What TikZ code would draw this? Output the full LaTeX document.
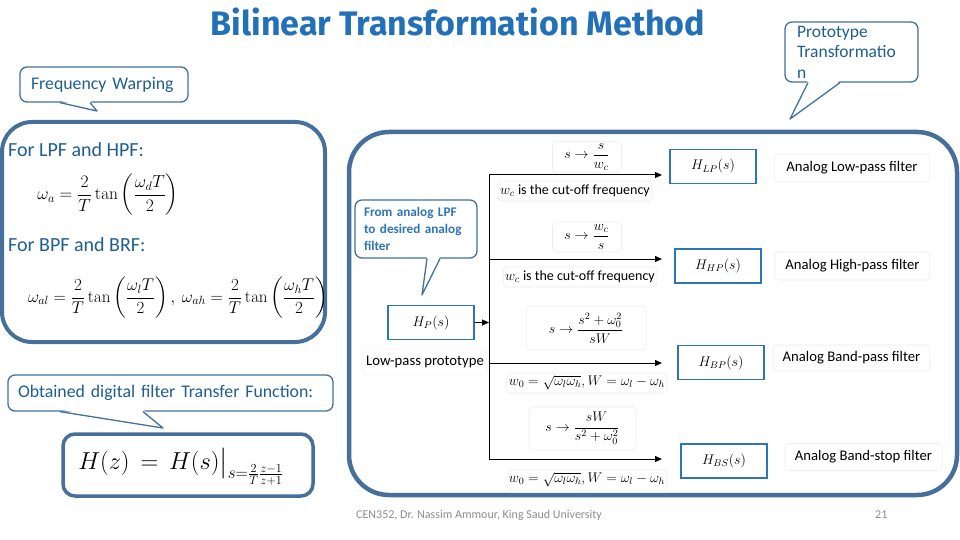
\RequirePackage{fix-cm}
\documentclass[tikz,border=0pt]{standalone}
\usepackage{amsmath}
\usepackage[no-math]{fontspec}
\setmainfont{Carlito}
\newfontfamily\titlefont{Fira Sans}
\usetikzlibrary{arrows.meta,calc,positioning}
\definecolor{frameblue}{HTML}{46709A}
\definecolor{callline}{HTML}{41719C}
\definecolor{calltext}{HTML}{1F5F8F}
\definecolor{titleblue}{HTML}{2170B8}
\definecolor{boxblue}{HTML}{2E75B6}
\definecolor{footgray}{HTML}{8C8C8C}
\tikzset{
  panel/.style={draw=frameblue, line width=4pt, rounded corners=30pt},
  callout/.style={
    draw=callline, line width=1.3pt, rounded corners=7pt, fill=white,
    text=calltext, align=left, inner sep=0pt,
    font=\fontsize{17.8}{20}\selectfont
  },
  filterbox/.style={
    draw=boxblue, line width=1.6pt, fill=white, inner sep=0pt,
    minimum width=86pt, minimum height=34pt,
    font=\fontsize{14}{16}\selectfont
  },
  rulebox/.style={
    draw=black!7, line width=0.6pt, fill=white, rounded corners=4pt, inner sep=2pt,
    font=\fontsize{14}{16}\selectfont
  },
  namebox/.style={rulebox, font=\fontsize{14.7}{17}\selectfont},
  busline/.style={line width=1pt, draw=black},
  flow/.style={line width=1pt, draw=black, -{Triangle[length=7pt,width=6pt]}},
  title/.style={font=\titlefont\bfseries\fontsize{34}{38}\selectfont, text=titleblue},
  heading/.style={anchor=west, text=calltext, font=\fontsize{20}{22}\selectfont, inner sep=0pt},
  footer/.style={font=\fontsize{12}{14}\selectfont, text=footgray, anchor=west, inner sep=0pt}
}
% pointer of a speech bubble: node, left x, tip, right x
\newcommand{\calltail}[4]{%
  \fill[white] ($(#1.south -| #2,0)+(0,-2)$) -- (#3) -- ($(#1.south -| #4,0)+(0,-2)$) -- cycle;
  \draw[callline, line width=1.3pt, line join=round] (#1.south -| #2,0) -- (#3) -- (#1.south -| #4,0);
}

\begin{document}
\begin{tikzpicture}[x=1pt,y=-1pt]
\useasboundingbox (0,0) rectangle (960,540);
\fill[white] (0,0) rectangle (960,540);

\node[title] (head) at (458,22) {Bilinear Transformation Method};

% left side
\node[callout, minimum width=168pt, minimum height=35pt, text width=146pt] (warp) at (104,84.5) {Frequency Warping};
\coordinate (warptip) at (97,111);
\calltail{warp}{60}{warptip}{90}

\draw[panel] (2,122) rectangle (325,342);
\node[heading] (lpfhpf) at (8,150) {For LPF and HPF:};
\node[font=\fontsize{17.5}{20}\selectfont] (eqa) at (108,195) {$\displaystyle\omega_a = \frac{2}{T}\tan\left(\frac{\omega_d T}{2}\right)$};
\node[heading] (bpfbrf) at (8,245) {For BPF and BRF:};
\node[font=\fontsize{17}{20}\selectfont] (eqb) at (178,298) {$\displaystyle\omega_{al} = \frac{2}{T}\tan\left(\frac{\omega_l T}{2}\right),\ \omega_{ah} = \frac{2}{T}\tan\left(\frac{\omega_h T}{2}\right)$};

\node[callout, minimum width=325pt, minimum height=36pt, text width=305pt] (obtain) at (170.5,393) {Obtained digital filter Transfer Function:};
\coordinate (obtaintip) at (163,428);
\calltail{obtain}{60}{obtaintip}{143}

\draw[panel, line width=3.5pt, rounded corners=12pt] (63,434) rectangle (313,496);
\node[font=\fontsize{24.5}{28}\selectfont, inner sep=0pt] (hz) at (181,467) {$H(z) \,=\, H(s)\big|_{s=\frac{2}{T}\frac{z-1}{z+1}}$};

% right side
\node[callout, minimum width=133pt, minimum height=60pt, text width=109pt, font=\fontsize{17.5}{20.5}\selectfont] (proto) at (851.5,52) {Prototype\\Transformatio\\n};
\coordinate (prototip) at (790,119);
\calltail{proto}{808}{prototip}{840}

\draw[panel, line width=4.5pt, rounded corners=40pt] (349,132) rectangle (957,495);

\node[callout, minimum width=122pt, minimum height=58pt, text width=104pt, text=boxblue, font=\fontsize{13.2}{17}\selectfont\bfseries] (fromlpf) at (416,229) {From analog LPF\\to desired analog\\filter};
\coordinate (fromtip) at (422,295);
\calltail{fromlpf}{427}{fromtip}{440}

\node[filterbox] (hp) at (431,322.5) {$H_P(s)$};
\node[namebox, draw=black!4, minimum width=124pt, minimum height=26pt] (lpproto) at (425,362) {Low-pass prototype};

\coordinate (bus1) at (489,175);
\coordinate (busin) at (489,322.5);
\coordinate (bus2) at (489,259);
\coordinate (bus3) at (489,363);
\coordinate (bus4) at (489,459);
\coordinate (end1) at (662,175);
\coordinate (end2) at (662,259);
\coordinate (end3) at (662,363);
\coordinate (end4) at (662,459);

\draw[busline] (bus1) -- (bus4);
\draw[flow] (hp.east) -- (busin);
\draw[flow] (bus1) -- (end1);
\draw[flow] (bus2) -- (end2);
\draw[flow] (bus3) -- (end3);
\draw[flow] (bus4) -- (end4);

\node[rulebox, minimum width=69pt, minimum height=30pt] (rulelp) at (587,157) {$s\rightarrow\dfrac{s}{w_c}$};
\node[rulebox, minimum width=154pt, minimum height=20pt] (notelp) at (575,191) {$w_c$ is the cut-off frequency};
\node[rulebox, minimum width=69pt, minimum height=30pt] (rulehp) at (587,237) {$s\rightarrow\dfrac{w_c}{s}$};
\node[rulebox, minimum width=150pt, minimum height=20pt] (notehp) at (580,277) {$w_c$ is the cut-off frequency};
\node[rulebox, minimum width=120pt, minimum height=44pt] (rulebp) at (586,328) {$s\rightarrow\dfrac{s^2+\omega_0^2}{sW}$};
\node[rulebox, minimum width=160pt, minimum height=20pt] (notebp) at (587,383) {$w_0=\sqrt{\omega_l\omega_h}, W=\omega_l-\omega_h$};
\node[rulebox, minimum width=107pt, minimum height=43pt] (rulebs) at (582.5,428.5) {$s\rightarrow\dfrac{sW}{s^2+\omega_0^2}$};
\node[rulebox, minimum width=160pt, minimum height=20pt] (notebs) at (587,480) {$w_0=\sqrt{\omega_l\omega_h}, W=\omega_l-\omega_h$};

\node[filterbox] (hlp) at (713,166.5) {$H_{LP}(s)$};
\node[filterbox] (hhp) at (718,266) {$H_{HP}(s)$};
\node[filterbox] (hbp) at (721,362.5) {$H_{BP}(s)$};
\node[filterbox] (hbs) at (724,461) {$H_{BS}(s)$};

\node[namebox, minimum width=156pt, minimum height=28pt] (namelp) at (852,168) {Analog Low-pass filter};
\node[namebox, minimum width=155pt, minimum height=28pt] (namehp) at (852.5,266) {Analog High-pass filter};
\node[namebox, minimum width=157pt, minimum height=26pt] (namebp) at (851.5,358) {Analog Band-pass filter};
\node[namebox, minimum width=157pt, minimum height=27pt] (namebs) at (863.5,457) {Analog Band-stop filter};

\node[footer] (foot) at (356,515) {CEN352, Dr. Nassim Ammour, King Saud University};
\node[footer] (page) at (875,515) {21};

\end{tikzpicture}
\end{document}
